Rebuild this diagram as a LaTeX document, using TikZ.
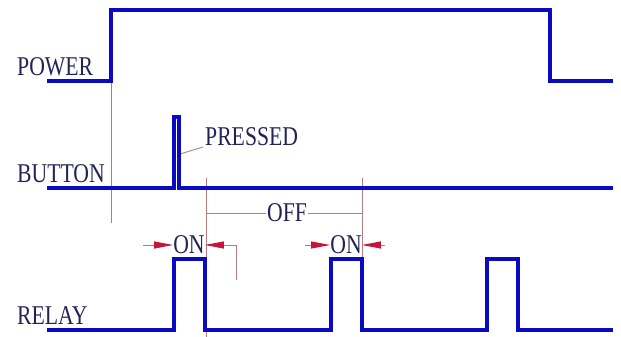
\documentclass[tikz,border=0pt]{standalone}
\usepackage{fontspec}
\setmainfont{Liberation Serif}
\usetikzlibrary{arrows.meta}
\definecolor{wavec}{RGB}{10,10,195}
\definecolor{txtc}{RGB}{35,35,85}
\definecolor{dimc}{RGB}{180,125,125}
\definecolor{arrc}{RGB}{200,20,60}
\begin{document}
\begin{tikzpicture}[x=1pt,y=-1pt,
  wave/.style={draw=wavec,line width=3.1pt,line join=miter},
  lbl/.style={text=txtc,font=\fontsize{21.7}{24}\selectfont,inner sep=0pt},
  dimline/.style={draw=dimc,line width=0.9pt},
  dimarrow/.style={dimline,-{Triangle[length=19pt,width=7pt,fill=arrc,color=arrc]}}]
\useasboundingbox (0,0) rectangle (621,337);
% labels
\node[lbl,anchor=west] (power) at (17,67) {\scalebox{1}[1.25]{POWER}};
\node[lbl,anchor=west] (button) at (17,174) {\scalebox{1}[1.25]{BUTTON}};
\node[lbl,anchor=west] (relay) at (17,316) {\scalebox{1}[1.25]{RELAY}};
\node[lbl,anchor=west] (pressed) at (205,137) {\scalebox{1}[1.25]{PRESSED}};
% thin reference lines
\draw[dimline] (111,81) -- (111,223);
\draw[dimline] (206,178) -- (206,337);
\draw[dimline] (362,178) -- (362,259);
\coordinate (pulse) at (177,155);
\draw[dimline] (pulse) -- (203,147);
% OFF dimension
\draw[dimline] (206,213) -- (362,213);
\node[lbl,fill=white,inner xsep=1pt] (off) at (287,213) {\scalebox{1}[1.25]{OFF}};
% ON dimensions
\node[lbl] (on1) at (189,245) {\scalebox{1}[1.25]{ON}};
\node[lbl] (on2) at (346,245) {\scalebox{1}[1.25]{ON}};
\draw[dimarrow] (143,245) -- (on1.west);
\draw[dimarrow] (236,280) -- (236,245) -- (on1.east);
\draw[dimarrow] (305,245) -- (on2.west);
\draw[dimarrow] (385,245) -- (on2.east);
% waveforms
\draw[wave] (47,81) -- (111,81) -- (111,10) -- (550,10) -- (550,81) -- (613,81);
\draw[wave] (47,188) -- (174,188) -- (174,117) -- (179,117) -- (179,188) -- (613,188);
\draw[wave] (47,330) -- (174,330) -- (174,259) -- (205,259) -- (205,330) -- (331,330)
  -- (331,259) -- (362,259) -- (362,330) -- (487,330) -- (487,259) -- (518,259) -- (518,330) -- (613,330);
\end{tikzpicture}
\end{document}
